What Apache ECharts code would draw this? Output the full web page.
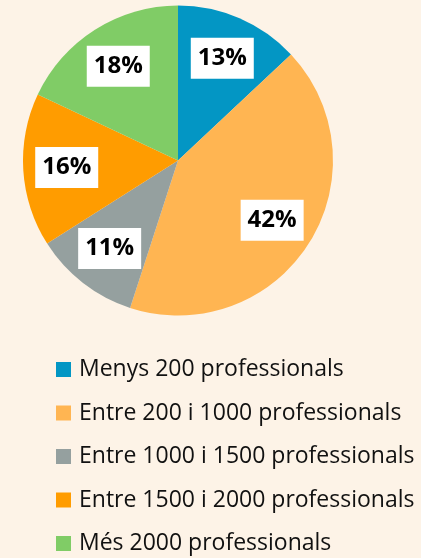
<!DOCTYPE html>
<html>
<head>
<meta charset="utf-8">
<script src="https://cdn.jsdelivr.net/npm/echarts@6/dist/echarts.min.js"></script>
<style>
    html, body { margin: 0; padding: 0; background: #fdf3e7; }
    #chart { width: 421px; height: 558px; }
</style>
</head>
<body>
<div id="chart"></div>
<script>
'use strict';

const categories = [
    'Menys 200 professionals',
    'Entre 200 i 1000 professionals',
    'Entre 1000 i 1500 professionals',
    'Entre 1500 i 2000 professionals',
    'Més 2000 professionals',
];
const shares = [13, 42, 11, 16, 18];
const colours = ['#0396c4', '#ffb552', '#95a09f', '#ff9c00', '#80cc66'];

const fontFamily = '"Open Sans", sans-serif';

document.addEventListener('DOMContentLoaded', () => {
    const pieData = categories.map((name, i) => ({ name, value: shares[i] }));

    const chart = echarts.init(document.getElementById('chart'));
    chart.setOption({
        backgroundColor: '#fdf3e7',
        animation: false,
        color: colours,
        legend: {
            orient: 'vertical',
            left: 56,
            top: 358,
            height: 400,
            padding: 0,
            itemWidth: 15,
            itemHeight: 15,
            itemGap: 20.5,
            icon: 'rect',
            data: categories,
            textStyle: {
                fontFamily,
                fontSize: 23,
                lineHeight: 21,
                color: '#111',
                padding: [0, 0, 0, 3],
            },
        },
        series: [
            {
                type: 'pie',
                center: [178, 160.5],
                radius: [0, 155],
                startAngle: 90,
                clockwise: true,
                label: { show: false },
                labelLine: { show: false },
                emphasis: { disabled: true },
                data: pieData,
            },
            {
                // transparent overlay so the labels sit at ~70% of the radius
                type: 'pie',
                center: [178, 160.5],
                radius: [62, 155],
                startAngle: 90,
                clockwise: true,
                silent: true,
                legendHoverLink: false,
                itemStyle: { color: 'rgba(0,0,0,0)' },
                emphasis: { disabled: true },
                label: {
                    show: true,
                    position: 'inside',
                    formatter: '{d}%',
                    fontFamily,
                    fontWeight: 'bold',
                    fontSize: 24,
                    color: '#000',
                    backgroundColor: '#fff',
                    width: 63,
                    height: 41,
                    lineHeight: 41,
                    align: 'center',
                },
                labelLine: { show: false },
                data: pieData,
            },
        ],
    });
});
</script>
</body>
</html>
